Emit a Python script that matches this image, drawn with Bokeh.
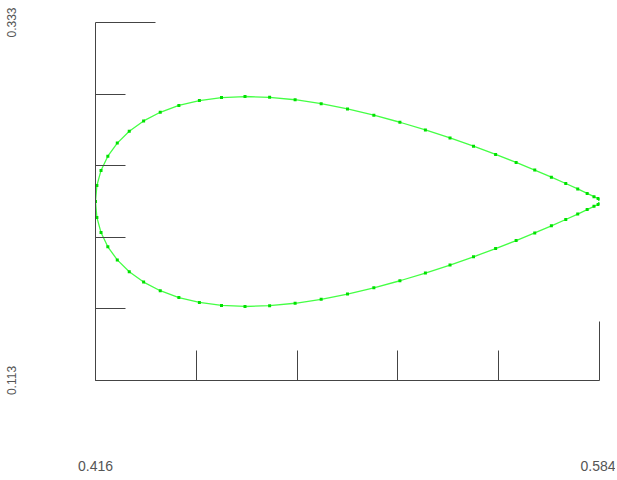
from bokeh.plotting import figure
from bokeh.models import Range1d, LinearAxis, FixedTicker
from bokeh.embed import file_html
from bokeh.resources import INLINE

# ---- data ----
x_vals = [0.41600, 0.41646, 0.41784, 0.42011, 0.42326, 0.42725, 0.43204, 0.43758,
          0.44379, 0.45063, 0.45800, 0.46583, 0.47404, 0.48254, 0.49122, 0.50000,
          0.50878, 0.51747, 0.52596, 0.53417, 0.54200, 0.54937, 0.55621, 0.56242,
          0.56796, 0.57275, 0.57674, 0.57989, 0.58216, 0.58354, 0.58400]
y_upper = [0.22300, 0.23280, 0.24210, 0.25084, 0.25889, 0.26616, 0.27250, 0.27782,
           0.28202, 0.28504, 0.28687, 0.28751, 0.28704, 0.28554, 0.28312, 0.27991,
           0.27606, 0.27170, 0.26699, 0.26204, 0.25697, 0.25192, 0.24700, 0.24230,
           0.23796, 0.23406, 0.23071, 0.22799, 0.22599, 0.22477, 0.22435]
y_lower = [0.22300, 0.21320, 0.20390, 0.19516, 0.18711, 0.17984, 0.17350, 0.16818,
           0.16398, 0.16096, 0.15913, 0.15849, 0.15896, 0.16046, 0.16288, 0.16609,
           0.16994, 0.17430, 0.17901, 0.18396, 0.18903, 0.19408, 0.19900, 0.20370,
           0.20804, 0.21194, 0.21529, 0.21801, 0.22001, 0.22123, 0.22165]

x_ticks = [0.416, 0.584]
x_minor = [0.4496, 0.4832, 0.5168, 0.5504]
x_tick_labels = ["0.416", "0.584"]
y_ticks = [0.113, 0.333]
y_minor = [0.157, 0.201, 0.245, 0.289]
y_tick_labels = ["0.113", "0.333"]

AXIS = "#444444"
TXT = "#555555"
GREEN_LINE = "#44ff44"
GREEN_DOT = "#00e000"

p = figure(width=615, height=476, output_backend="svg", toolbar_location=None,
           x_range=Range1d(x_ticks[0], x_ticks[1]), y_range=Range1d(y_ticks[0], y_ticks[1]),
           x_axis_type=None, y_axis_type=None,
           min_border_left=95, min_border_right=16, min_border_top=22, min_border_bottom=96)
p.outline_line_color = None
p.background_fill_color = "white"
p.border_fill_color = "white"

xa = LinearAxis(ticker=FixedTicker(ticks=x_ticks, minor_ticks=x_minor))
xa.major_label_overrides = {t: s for t, s in zip(x_ticks, x_tick_labels)}
xa.axis_line_color = AXIS
xa.major_tick_line_color = AXIS
xa.minor_tick_line_color = AXIS
xa.major_tick_in = 59
xa.major_tick_out = 0
xa.minor_tick_in = 30
xa.minor_tick_out = 0
xa.major_label_standoff = 80
xa.major_label_text_font = "Liberation Sans"
xa.major_label_text_font_size = "14px"
xa.major_label_text_color = TXT
p.add_layout(xa, "below")

ya = LinearAxis(ticker=FixedTicker(ticks=y_ticks, minor_ticks=y_minor))
ya.major_label_overrides = {t: s for t, s in zip(y_ticks, y_tick_labels)}
ya.major_label_orientation = "vertical"
ya.axis_line_color = AXIS
ya.major_tick_line_color = AXIS
ya.minor_tick_line_color = AXIS
ya.major_tick_in = 60
ya.major_tick_out = 0
ya.minor_tick_in = 30
ya.minor_tick_out = 0
ya.major_label_standoff = 80
ya.major_label_text_font = "Liberation Sans"
ya.major_label_text_font_size = "12px"
ya.major_label_text_color = TXT
p.add_layout(ya, "left")

p.line(x_vals, y_upper, line_color=GREEN_LINE, line_width=1.3)
p.line(x_vals, y_lower, line_color=GREEN_LINE, line_width=1.3)
p.scatter(x_vals, y_upper, marker="square", size=3, fill_color=GREEN_DOT, line_color=None)
p.scatter(x_vals, y_lower, marker="square", size=3, fill_color=GREEN_DOT, line_color=None)

open("out.html", "w").write(file_html(p, INLINE))
